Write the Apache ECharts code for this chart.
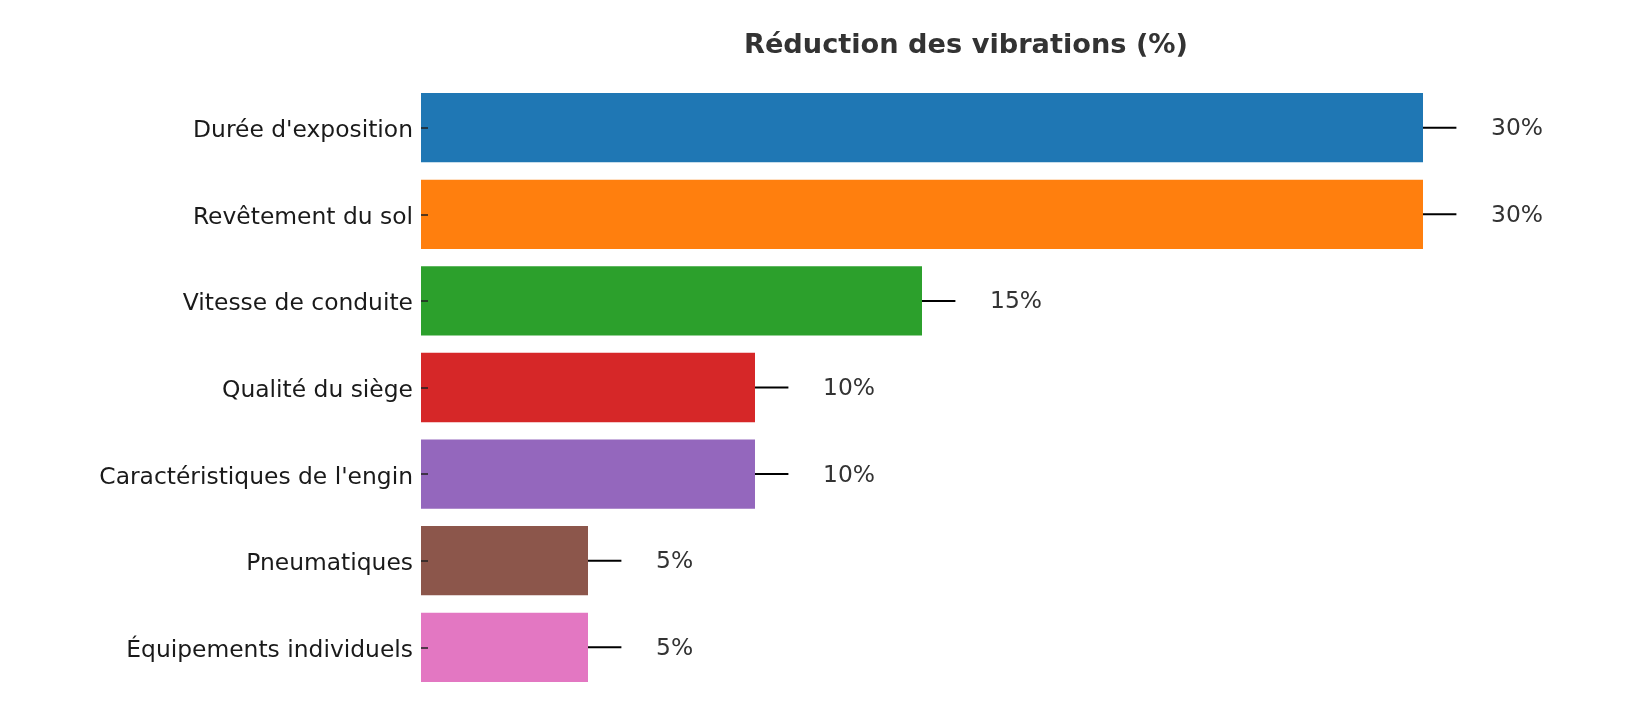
<!DOCTYPE html>
<html>
<head>
<meta charset="utf-8">
<script src="https://cdn.jsdelivr.net/npm/echarts@6/dist/echarts.min.js"></script>
<style>
  html, body { margin: 0; padding: 0; background: #fff; }
  #main { width: 1640px; height: 702px; }
</style>
</head>
<body>
<div id="main"></div>
<script>
// données
var categories = ["Durée d'exposition", "Revêtement du sol", "Vitesse de conduite", "Qualité du siège", "Caractéristiques de l'engin", "Pneumatiques", "Équipements individuels"];
var reductions = [30, 30, 15, 10, 10, 5, 5];
var barColors = ['#1f77b4', '#ff7f0e', '#2ca02c', '#d62728', '#9467bd', '#8c564b', '#e377c2'];
var leaderLength = 1; // trait après la barre, en unités de l'axe

var myChart = echarts.init(document.getElementById('main'));

var option = {
  animation: false,
  title: {
    text: 'Réduction des vibrations (%)',
    left: 961,
    textAlign: 'center',
    top: 27,
    textStyle: {
      fontFamily: 'DejaVu Sans',
      fontWeight: 'bold',
      fontSize: 27.2,
      color: '#333333'
    }
  },
  grid: {
    left: 421,
    top: 84.4,
    width: 33 * 33.4,
    height: 606.2
  },
  xAxis: {
    type: 'value',
    min: 0,
    max: 33,
    show: false
  },
  yAxis: {
    type: 'category',
    inverse: true,
    z: 5,
    data: categories,
    axisLine: { show: false },
    axisTick: {
      show: true,
      inside: true,
      length: 7,
      alignWithLabel: true,
      lineStyle: { color: '#222', width: 1.5 }
    },
    axisLabel: {
      margin: 8,
      formatter: '{t|{value}}',
      rich: {
        t: {
          padding: [7, 0, 0, 0],
          fontFamily: 'DejaVu Sans',
          fontSize: 23.4,
          color: '#1a1a1a'
        }
      }
    }
  },
  series: [{
    type: 'bar',
    data: reductions.map(function(v, i) {
      return { value: v, itemStyle: { color: barColors[i] } };
    }),
    barCategoryGap: '20%',
    z: 1,
    label: {
      show: true,
      position: 'right',
      distance: 68,
      formatter: '{v|{c}%}',
      rich: {
        v: {
          padding: [3, 0, 0, 0],
          fontFamily: 'DejaVu Sans',
          fontSize: 23.4,
          color: '#333333'
        }
      }
    }
  }, {
    // petits traits horizontaux au bout des barres
    type: 'custom',
    data: reductions.map(function(v, i) { return [v, i]; }),
    z: 3,
    renderItem: function(params, api) {
      var p0 = api.coord([api.value(0), api.value(1)]);
      var p1 = api.coord([api.value(0) + leaderLength, api.value(1)]);
      return {
        type: 'line',
        shape: { x1: p0[0], y1: p0[1], x2: p1[0], y2: p1[1] },
        style: { stroke: '#000', lineWidth: 2 }
      };
    }
  }]
};

myChart.setOption(option);
</script>
</body>
</html>
